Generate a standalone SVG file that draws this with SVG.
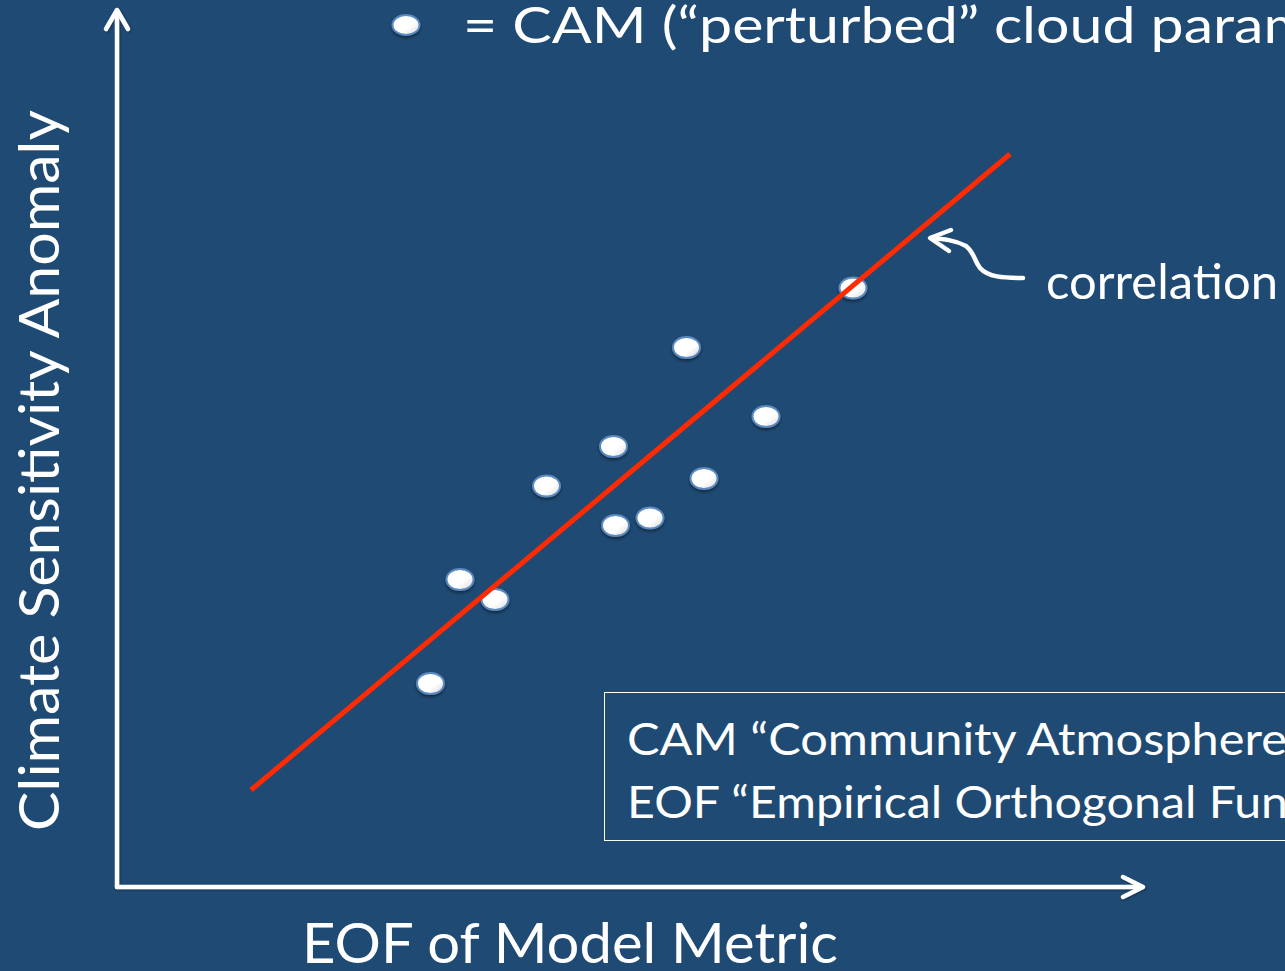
<svg xmlns="http://www.w3.org/2000/svg" width="1285" height="971" viewBox="0 0 1285 971">
<defs>
<style>
.t{font-family:Lato,"Open Sans","Liberation Sans",sans-serif;fill:#ffffff;}
.ax{stroke:#ffffff;stroke-width:4.5;fill:none;stroke-linecap:round;stroke-linejoin:round;}
.dot{fill:url(#dg);stroke:#5b8ac0;stroke-width:2;filter:url(#sh);}
</style>
<linearGradient id="dg" x1="0" y1="0" x2="1" y2="1">
<stop offset="0" stop-color="#ffffff"/>
<stop offset="0.6" stop-color="#ffffff"/>
<stop offset="1" stop-color="#d8d8d8"/>
</linearGradient>
<filter id="sh" x="-30%" y="-30%" width="160%" height="180%">
<feDropShadow dx="0" dy="2" stdDeviation="1.5" flood-color="#000000" flood-opacity="0.45"/>
</filter>
<filter id="ash" x="-5%" y="-5%" width="110%" height="110%">
<feDropShadow dx="1" dy="1" stdDeviation="1" flood-color="#000000" flood-opacity="0.35"/>
</filter>
</defs>
<rect x="0" y="0" width="1285" height="971" fill="#1f4a73"/>

<g id="legend">
<ellipse class="dot" cx="406" cy="25" rx="13.5" ry="10"/>
<text class="t" x="463" y="43" font-size="51" textLength="849" lengthAdjust="spacingAndGlyphs">= CAM (“perturbed” cloud param</text>
</g>

<g id="axis-y-label">
<text class="t" transform="translate(59,831) rotate(-90)" font-size="56" textLength="721" lengthAdjust="spacingAndGlyphs">Climate Sensitivity Anomaly</text>
</g>
<g id="axis-x-label">
<text class="t" x="302" y="963" font-size="56" textLength="536" lengthAdjust="spacingAndGlyphs">EOF of Model Metric</text>
</g>

<g id="note-box">
<rect x="604.5" y="692.5" width="720" height="148" fill="none" stroke="#ffffff" stroke-width="1"/>
<text class="t" x="627" y="755" font-size="45" textLength="660" lengthAdjust="spacingAndGlyphs">CAM “Community Atmosphere</text>
<text class="t" x="627" y="818" font-size="45" textLength="661" lengthAdjust="spacingAndGlyphs">EOF “Empirical Orthogonal Fun</text>
</g>

<g id="points">
<ellipse class="dot" cx="686.5" cy="347.5" rx="13.5" ry="10.5"/>
<ellipse class="dot" cx="766" cy="416.5" rx="13.5" ry="10.5"/>
<ellipse class="dot" cx="613.5" cy="446.5" rx="13.5" ry="10.5"/>
<ellipse class="dot" cx="546.5" cy="486" rx="13.5" ry="10.5"/>
<ellipse class="dot" cx="704" cy="478.5" rx="13.5" ry="10.5"/>
<ellipse class="dot" cx="615.5" cy="525.5" rx="13.5" ry="10.5"/>
<ellipse class="dot" cx="650" cy="518" rx="13.5" ry="10.5"/>
<ellipse class="dot" cx="460" cy="579.5" rx="13.5" ry="10.5"/>
<ellipse class="dot" cx="495" cy="599.5" rx="13.5" ry="10.5"/>
<ellipse class="dot" cx="430.5" cy="683.5" rx="13.5" ry="10.5"/>
<ellipse class="dot" cx="853" cy="288" rx="13.5" ry="10.5"/>
</g>

<g id="connectors">
<g filter="url(#ash)">
<line class="ax" x1="117" y1="887" x2="117" y2="11"/>
<polyline class="ax" points="106,29 117,10 128,29"/>
<line class="ax" x1="117" y1="887" x2="1142" y2="887"/>
<polyline class="ax" points="1123,877 1143,887 1123,897"/>
</g>
<line id="fit-line" x1="251" y1="790" x2="1010" y2="154" stroke="#ff2a00" stroke-width="5"/>
<g id="correlation-arrow">
<path class="ax" stroke-width="5.5" d="M1023,278 C1003,278 988,277 980,268 C974,260 974,252 966,246 C955,240 943,239 931,238"/>
<polyline class="ax" stroke-width="5.5" points="951,230 930,238 949,251"/>
</g>
</g>

<g id="correlation-label">
<text class="t" x="1046" y="299" font-size="48" textLength="232" lengthAdjust="spacingAndGlyphs">correlation</text>
</g>
</svg>
